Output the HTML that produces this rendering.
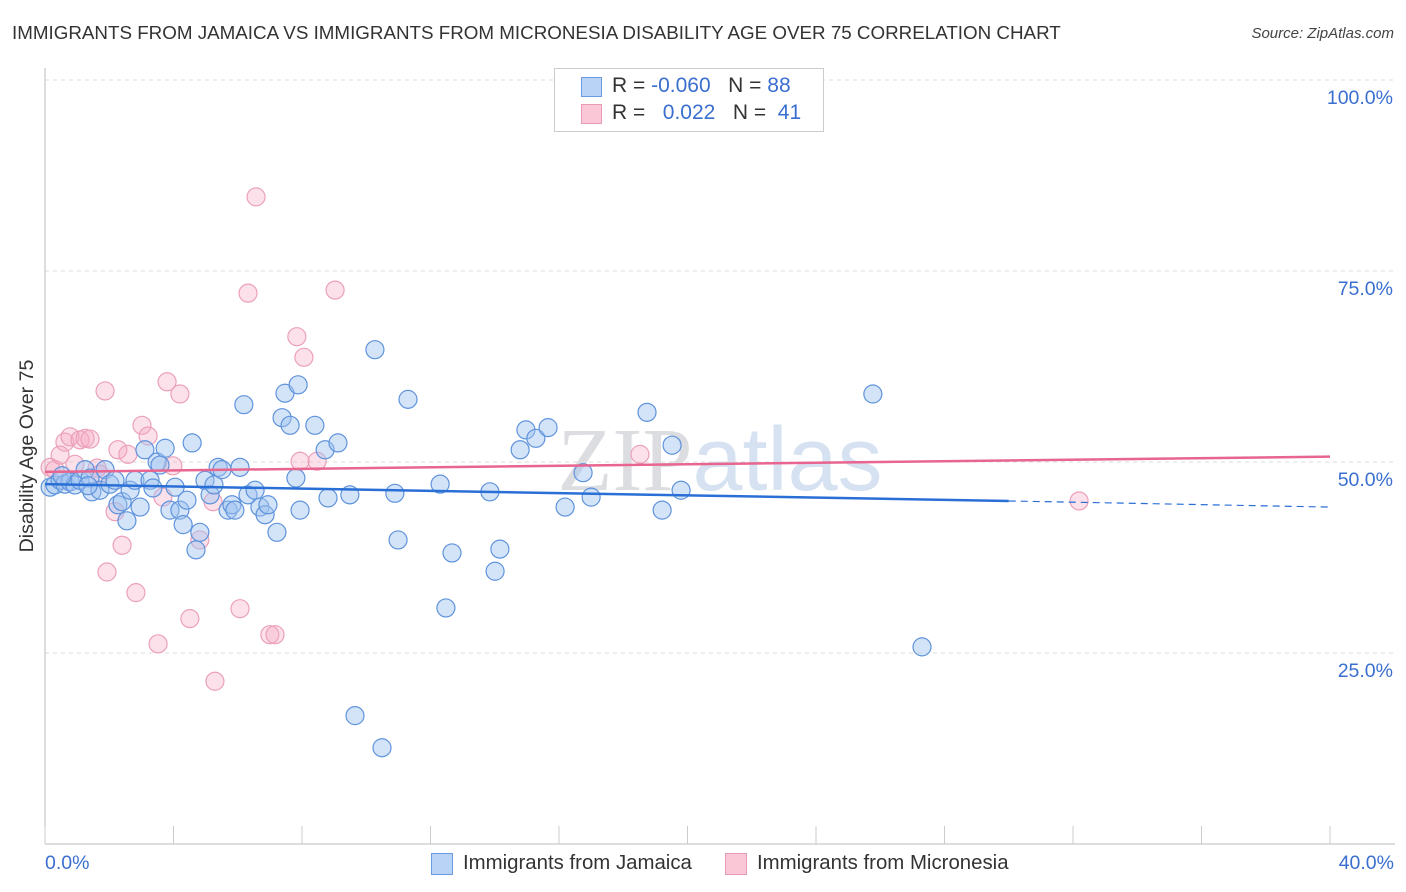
<!DOCTYPE html>
<html><head><meta charset="utf-8"><style>
body{margin:0;background:#fff;font-family:"Liberation Sans",sans-serif;}
#wrap{position:relative;width:1406px;height:892px;overflow:hidden;}
.t{position:absolute;white-space:nowrap;}
</style></head><body>
<div id="wrap">
<div class="t" style="left:12px;top:22px;font-size:18.8px;color:#333;">IMMIGRANTS FROM JAMAICA VS IMMIGRANTS FROM MICRONESIA DISABILITY AGE OVER 75 CORRELATION CHART</div>
<div class="t" style="right:12px;top:25px;font-size:15px;color:#444;font-style:italic;">Source: ZipAtlas.com</div>
<svg id="plot" width="1406" height="892" style="position:absolute;left:0;top:0;">
<text x="720" y="490" text-anchor="middle" font-size="90" fill="#e6e9ee" font-family="Liberation Sans"><tspan font-family="Liberation Serif" fill="#dcdde0">ZIP</tspan><tspan fill="#d6e2f2">atlas</tspan></text>
<g id="grid"></g><g id="pts"></g><g id="lines"></g>
<text x="33" y="456" transform="rotate(-90 33 456)" text-anchor="middle" font-size="19.6" fill="#333">Disability Age Over 75</text>
</svg>
<div style="position:absolute;left:554px;top:68px;width:268px;height:62px;border:1px solid #ccc;background:#fff;">
<div style="position:absolute;left:26px;top:8px;width:19px;height:18px;background:#b8d3f5;border:1px solid #6a9be0;"></div>
<div style="position:absolute;left:26px;top:35px;width:19px;height:18px;background:#fac7d6;border:1px solid #e99ab5;"></div>
<div class="t" style="left:57px;top:5px;font-size:21px;color:#333;">R = <span style="color:#3a6fd0">-0.060</span>&nbsp;&nbsp;&nbsp;N = <span style="color:#3a6fd0">88</span></div>
<div class="t" style="left:57px;top:32px;font-size:21px;color:#333;">R = &nbsp;&nbsp;<span style="color:#3a6fd0">0.022</span>&nbsp;&nbsp;&nbsp;N = &nbsp;<span style="color:#3a6fd0">41</span></div>
</div>
<div class="t" style="left:45px;top:852px;font-size:19.5px;color:#3a6fd0;">0.0%</div>
<div class="t" style="right:12px;top:852px;font-size:19.5px;color:#3a6fd0;">40.0%</div>
<div style="position:absolute;left:431px;top:853px;">
<div style="position:absolute;left:0;top:0;width:20px;height:20px;background:#b8d3f5;border:1px solid #6a9be0;"></div>
<div class="t" style="left:32px;top:-1px;font-size:20.4px;color:#333;">Immigrants from Jamaica</div></div>
<div style="position:absolute;left:725px;top:853px;">
<div style="position:absolute;left:0;top:0;width:20px;height:20px;background:#fac7d6;border:1px solid #e99ab5;"></div>
<div class="t" style="left:32px;top:-1px;font-size:20.4px;color:#333;">Immigrants from Micronesia</div></div>
</div>
<script>
const yTicks=[100,75,50,25];
const yTickLabels=["100.0%","75.0%","50.0%","25.0%"];
const xTicks=[0,4,8,12,16,20,24,28,32,36,40];
const jamX=[0.16,0.31,0.47,0.62,0.78,0.93,1.09,1.25,1.40,1.46,1.71,1.87,2.02,2.18,2.27,2.40,2.55,2.65,2.80,2.96,3.11,3.27,3.36,3.49,3.58,3.74,3.89,4.05,4.20,4.30,4.42,4.58,4.70,4.82,4.98,5.14,5.26,5.39,5.51,5.70,5.82,5.91,6.07,6.19,6.32,6.54,6.69,6.85,6.94,7.22,7.38,7.47,7.63,7.81,7.88,7.94,8.40,8.72,8.81,9.12,9.49,9.65,10.27,10.49,10.89,10.99,11.30,12.30,12.48,12.67,13.85,14.01,14.16,14.79,14.97,15.28,15.66,16.19,16.75,17.00,18.74,19.21,19.52,19.80,25.77,27.30,0.53,1.34];
const jamY=[46.7,47.0,47.6,47.1,47.4,47.0,47.6,49.0,47.9,46.1,46.3,49.0,47.1,47.6,44.4,44.8,42.3,46.3,47.6,44.1,51.6,47.6,46.6,50.0,49.6,51.8,43.7,46.7,43.7,41.8,45.0,52.5,38.5,40.8,47.6,45.7,47.0,49.3,49.0,43.7,44.4,43.7,49.3,57.5,45.7,46.3,44.1,43.1,44.4,40.8,55.8,59.0,54.8,47.9,60.1,43.7,54.8,51.6,45.3,52.5,45.7,16.8,64.7,12.6,45.9,39.8,58.2,47.1,30.9,38.1,46.1,35.7,38.6,51.6,54.2,53.1,54.5,44.1,48.6,45.4,56.5,43.7,52.2,46.3,58.9,25.8,48.2,46.9];
const micX=[0.16,0.31,0.47,0.62,0.78,0.93,1.09,1.25,1.40,1.62,1.71,1.93,1.87,2.18,2.27,2.40,2.58,2.83,3.02,3.21,3.52,3.67,3.80,3.98,4.20,4.51,4.82,5.29,5.23,6.07,6.32,6.57,7.00,7.16,7.84,8.06,7.94,8.47,9.03,18.52,32.19];
const micY=[49.3,49.0,50.9,52.6,53.3,49.7,52.9,53.1,53.0,49.2,48.4,35.6,59.3,43.5,51.6,39.1,51.0,32.9,54.8,53.4,26.2,45.4,60.5,49.5,58.9,29.5,39.8,21.3,44.8,30.8,72.1,84.7,27.4,27.4,66.4,63.7,50.1,50.1,72.5,51.0,44.9];
const jamTrend=[[0,47.1],[30,44.9],[40,44.1]];
const micTrend=[[0,48.7],[40,50.7]];
const NS="http://www.w3.org/2000/svg";
const sx=v=>45+v/40*1285, sy=v=>844-v/100*764;
function mk(tag,attrs,parent){const e=document.createElementNS(NS,tag);for(const k in attrs)e.setAttribute(k,attrs[k]);parent.appendChild(e);return e;}
const grid=document.getElementById('grid'),pts=document.getElementById('pts'),lines=document.getElementById('lines');
yTicks.forEach((t,i)=>{
 const l=mk('line',{x1:45,x2:1395,y1:sy(t),y2:sy(t),stroke:'#ddd','stroke-dasharray':'4,4'},grid);
 
 
 const tx=mk('text',{x:1393,y:sy(t)+24,'text-anchor':'end','font-size':19.5,fill:'#3a6fd0'},grid);
 tx.textContent=yTickLabels[i];
 
 
});
const ax=mk('line',{x1:45,x2:45,y1:68,y2:844,stroke:'#bbb'},grid);


const bx=mk('line',{x1:45,x2:1395,y1:844,y2:844,stroke:'#bbb'},grid);


xTicks.forEach(t=>{
 const l=mk('line',{x1:sx(t),x2:sx(t),y1:826,y2:844,stroke:'#ccc'},grid);
 
 
});
function dots(X,Y,fill,stroke,name){X.forEach((x,i)=>{
 const c=mk('circle',{cx:sx(x),cy:sy(Y[i]),r:9,fill:fill,stroke:stroke,'stroke-width':1.2},pts);
 
 
});}
dots(micX,micY,'rgba(246,170,196,0.35)','#eba0ba','micronesia-point');
dots(jamX,jamY,'rgba(160,195,240,0.45)','#5f93dc','jamaica-point');
let l1=mk('line',{x1:sx(jamTrend[0][0]),y1:sy(jamTrend[0][1]),x2:sx(jamTrend[1][0]),y2:sy(jamTrend[1][1]),stroke:'#2a6fd6','stroke-width':2.5},lines);


let l2=mk('line',{x1:sx(jamTrend[1][0]),y1:sy(jamTrend[1][1]),x2:sx(jamTrend[2][0]),y2:sy(jamTrend[2][1]),stroke:'#2a6fd6','stroke-width':1.2,'stroke-dasharray':'7,5'},lines);


let l3=mk('line',{x1:sx(micTrend[0][0]),y1:sy(micTrend[0][1]),x2:sx(micTrend[1][0]),y2:sy(micTrend[1][1]),stroke:'#e8658f','stroke-width':2.5},lines);


</script>
</body></html>
